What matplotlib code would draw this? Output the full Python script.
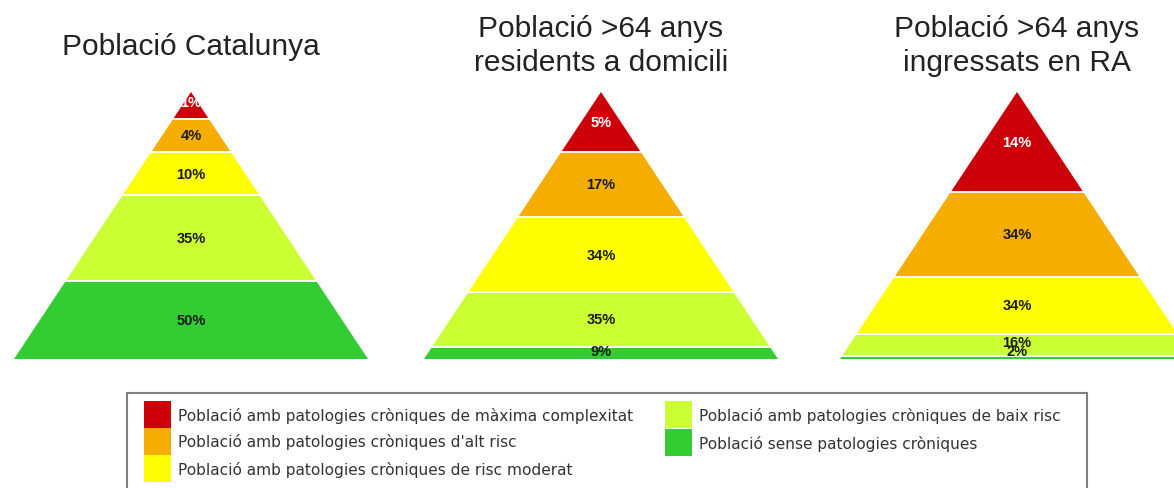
import numpy as np
import matplotlib
matplotlib.use("Agg")
import matplotlib.pyplot as plt
from matplotlib.patches import Polygon, Rectangle

# ---------------- data ----------------
titles = ["Població Catalunya",
          "Població >64 anys\nresidents a domicili",
          "Població >64 anys\ningressats en RA"]
categories = ["Població amb patologies cròniques de màxima complexitat",
              "Població amb patologies cròniques d'alt risc",
              "Població amb patologies cròniques de risc moderat",
              "Població amb patologies cròniques de baix risc",
              "Població sense patologies cròniques"]
catalunya = [1, 4, 10, 35, 50]
domicili = [5, 17, 34, 35, 9]
residencia = [14, 34, 34, 16, 2]
series = [catalunya, domicili, residencia]

colors = ["#CC0008", "#F5AE00", "#FFFF00", "#CCFF33", "#33CC33"]
label_colors = ["white", "#1a1a1a", "#1a1a1a", "#1a1a1a", "#1a1a1a"]

# ---------------- figure ----------------
W, H = 1174, 489
fig = plt.figure(figsize=(W / 100, H / 100), dpi=100)
ax = fig.add_axes([0, 0, 1, 1])
ax.set_xlim(0, W)
ax.set_ylim(H, 0)
ax.axis("off")

centers = [191, 601, 1017]
apex_y = 93
height = 267
half_base = 177

for cx, vals, title in zip(centers, series, titles):
    total = float(sum(vals))
    cum = np.concatenate([[0], np.cumsum(vals)]) / total
    for i, v in enumerate(vals):
        c0, c1 = cum[i], cum[i + 1]
        d0, d1 = height * np.sqrt(c0), height * np.sqrt(c1)
        w0, w1 = half_base * np.sqrt(c0), half_base * np.sqrt(c1)
        poly = Polygon([(cx - w0, apex_y + d0), (cx + w0, apex_y + d0),
                        (cx + w1, apex_y + d1), (cx - w1, apex_y + d1)],
                       closed=True, facecolor=colors[i], edgecolor="none")
        ax.add_patch(poly)
    # white separators between bands
    for c in cum[1:-1]:
        d = height * np.sqrt(c)
        w = half_base * np.sqrt(c)
        ax.plot([cx - w - 2, cx + w + 2], [apex_y + d, apex_y + d],
                color="white", linewidth=1.3, solid_capstyle="butt")
    for i, v in enumerate(vals):
        c0, c1 = cum[i], cum[i + 1]
        ly = apex_y + height * (np.sqrt(c0) + np.sqrt(c1)) / 2
        ly = min(ly, apex_y + height - 8)
        if i + 1 < len(vals) and cum[i + 2] - cum[i + 1] < 0.05:
            ly -= 3
        ax.text(cx, ly, f"{v}%", ha="center", va="center", fontsize=10.5,
                fontweight="bold", color=label_colors[i],
                family="Liberation Sans")
    ty = 47 if "\n" not in title else 46
    ax.text(cx, ty, title, ha="center", va="center", fontsize=21.5,
            color="#222222", family="Liberation Sans", linespacing=1.3)

# ---------------- legend ----------------
ax.add_patch(Rectangle((127, 394), 1087 - 127, 110, facecolor="white",
                       edgecolor="#808080", linewidth=1.5))
sw_w, sw_h = 27, 27
leg_pos = [(144, 402), (144, 429), (144, 456), (665, 402), (665, 430)]
for (x, y), col, lab in zip(leg_pos, colors, categories):
    ax.add_patch(Rectangle((x, y), sw_w, sw_h, facecolor=col, edgecolor="none"))
    ax.text(x + sw_w + 7, y + sw_h / 2, lab, ha="left", va="center",
            fontsize=11.1, color="#333333", family="DejaVu Sans")

fig.savefig("out.png", dpi=100)
